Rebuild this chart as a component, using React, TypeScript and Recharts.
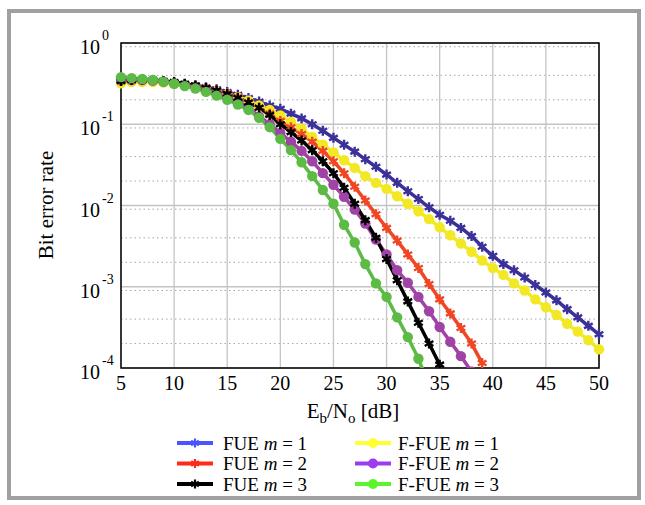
import { LineChart, Line, XAxis, YAxis, CartesianGrid, ReferenceArea } from 'recharts';

// Eb/No [dB] sample points
const snrDb = [
  5, 6, 7, 8, 9, 10, 11, 12, 13, 14, 15, 16, 17, 18, 19, 20, 21, 22, 23, 24, 25, 26, 27,
  28, 29, 30, 31, 32, 33, 34, 35, 36, 37, 38, 39, 40, 41, 42, 43, 44, 45, 46, 47, 48, 49, 50,
];

// BER values, starting at 5 dB
const fueM1 = [
  0.33, 0.35, 0.35, 0.345, 0.335, 0.325, 0.31, 0.3, 0.285, 0.27, 0.25, 0.23, 0.21, 0.19, 0.17,
  0.155, 0.135, 0.118, 0.1, 0.083, 0.068, 0.056, 0.046, 0.037, 0.03, 0.024, 0.019, 0.015, 0.012,
  0.0095, 0.0077, 0.0065, 0.0053, 0.0042, 0.0031, 0.0024, 0.0019, 0.0016, 0.0013, 0.00105,
  0.00085, 0.00068, 0.00053, 0.00042, 0.00033, 0.00026,
];
const fueM2 = [
  0.34, 0.35, 0.35, 0.345, 0.335, 0.325, 0.31, 0.295, 0.28, 0.26, 0.24, 0.215, 0.185, 0.16,
  0.135, 0.11, 0.092, 0.076, 0.061, 0.047, 0.035, 0.025, 0.017, 0.0115, 0.0078, 0.0053, 0.0037,
  0.0025, 0.0017, 0.00108, 0.0007, 0.00047, 0.00031, 0.0002, 0.000115,
];
const fueM3 = [
  0.34, 0.35, 0.355, 0.35, 0.34, 0.33, 0.315, 0.3, 0.28, 0.26, 0.235, 0.21, 0.185, 0.16, 0.13,
  0.1, 0.08, 0.063, 0.048, 0.035, 0.025, 0.0165, 0.0105, 0.0066, 0.004, 0.0022, 0.0012, 0.00066,
  0.00036, 0.0002, 0.00011,
];
const ffueM1 = [
  0.32, 0.33, 0.33, 0.33, 0.325, 0.315, 0.3, 0.29, 0.275, 0.255, 0.235, 0.215, 0.195, 0.17, 0.15,
  0.128, 0.107, 0.088, 0.07, 0.056, 0.045, 0.036, 0.029, 0.023, 0.019, 0.016, 0.013, 0.0105,
  0.0085, 0.0068, 0.0054, 0.0043, 0.0034, 0.0027, 0.0021, 0.0017, 0.0014, 0.0011, 0.0009, 0.0007,
  0.00056, 0.00045, 0.00035, 0.00028, 0.00022, 0.00017,
];
const ffueM2 = [
  0.35, 0.35, 0.35, 0.345, 0.335, 0.32, 0.305, 0.29, 0.27, 0.245, 0.22, 0.19, 0.16, 0.125, 0.1,
  0.078, 0.061, 0.047, 0.035, 0.025, 0.018, 0.0128, 0.0089, 0.006, 0.0038, 0.0025, 0.0016,
  0.00112, 0.00075, 0.0005, 0.00032, 0.00021, 0.00014, 0.00009,
];
const ffueM3 = [
  0.38, 0.37, 0.36, 0.35, 0.335, 0.315, 0.295, 0.275, 0.25, 0.225, 0.2, 0.175, 0.15, 0.12, 0.092,
  0.066, 0.048, 0.034, 0.023, 0.0155, 0.0105, 0.0058, 0.0035, 0.0019, 0.0011, 0.00075, 0.00042,
  0.00024, 0.00013, 0.00006,
];

const xTicks = [5, 10, 15, 20, 25, 30, 35, 40, 45, 50];
const yTicks = [1e-4, 1e-3, 1e-2, 1e-1, 1];
const yTickExponents = ['-4', '-3', '-2', '-1', '0'];

const SERIF = '"Liberation Serif", "Times New Roman", serif';

type Series = {
  key: string;
  name: string;
  m: number;
  values: number[];
  color: string;
  legendColor: string;
  marker: 'star' | 'circle';
};

const series: Series[] = [
  { key: 'fue1', name: 'FUE', m: 1, values: fueM1, color: '#3b3199', legendColor: '#4b55ff', marker: 'star' },
  { key: 'fue2', name: 'FUE', m: 2, values: fueM2, color: '#f04623', legendColor: '#ff2a1a', marker: 'star' },
  { key: 'fue3', name: 'FUE', m: 3, values: fueM3, color: '#000000', legendColor: '#000000', marker: 'star' },
  { key: 'ffue1', name: 'F-FUE', m: 1, values: ffueM1, color: '#f3e824', legendColor: '#ffff33', marker: 'circle' },
  { key: 'ffue2', name: 'F-FUE', m: 2, values: ffueM2, color: '#a043a6', legendColor: '#9b3cf0', marker: 'circle' },
  { key: 'ffue3', name: 'F-FUE', m: 3, values: ffueM3, color: '#5cbb45', legendColor: '#5cf52a', marker: 'circle' },
];

// draw order matches the figure (F-FUE m=3 on top)
const drawOrder = ['fue1', 'ffue1', 'fue2', 'ffue2', 'fue3', 'ffue3'];

const data = snrDb.map((snr, i) => {
  const row: Record<string, number | undefined> = { snr };
  series.forEach((s) => {
    row[s.key] = s.values[i];
  });
  return row;
});

// dotted minor gridlines, 2..9 x 10^k
const minorY: number[] = [];
[-4, -3, -2, -1].forEach((k) => {
  for (let m = 2; m <= 9; m++) minorY.push(m * Math.pow(10, k));
});

function starPath(cx: number, cy: number, r: number) {
  const a = r * 0.866;
  const b = r * 0.5;
  return `M${cx},${cy - r}L${cx},${cy + r}M${cx - a},${cy - b}L${cx + a},${cy + b}M${cx - a},${cy + b}L${cx + a},${cy - b}`;
}

function makeDot(color: string, marker: 'star' | 'circle') {
  return (props: any) => {
    const { cx, cy, index } = props;
    if (cx == null || cy == null || Number.isNaN(cy)) return <g key={index} />;
    if (marker === 'circle') {
      return <circle key={index} cx={cx} cy={cy} r={5.2} fill={color} stroke="none" />;
    }
    return <path key={index} d={starPath(cx, cy, 5)} stroke={color} strokeWidth={2.4} fill="none" />;
  };
}

function YTick(props: any) {
  const { x, y, payload } = props;
  const idx = yTicks.indexOf(payload.value);
  return (
    <g>
      <text x={x - 13} y={y + 11} textAnchor="end" fontSize={20} fontFamily={SERIF} fill="#000">
        10
      </text>
      <text x={x - 11} y={y - 3} fontSize={14} fontFamily={SERIF} fill="#000">
        {yTickExponents[idx]}
      </text>
    </g>
  );
}

function XTick(props: any) {
  const { x, y, payload } = props;
  return (
    <text x={x} y={y + 22} textAnchor="middle" fontSize={20} fontFamily={SERIF} fill="#000">
      {payload.value}
    </text>
  );
}

function LegendBlock() {
  const rows = [0, 1, 2];
  const cols = [
    { lineX: 177, textX: 223, items: series.slice(0, 3) },
    { lineX: 355, textX: 398, items: series.slice(3, 6) },
  ];
  return (
    <svg width={645} height={80} style={{ position: 'absolute', left: 0, top: 430 }}>
      {cols.map((c) =>
        rows.map((r) => {
          const s = c.items[r];
          const cy = 13 + r * 20.5;
          const mid = c.lineX + 18;
          return (
            <g key={s.key}>
              <line x1={c.lineX} x2={c.lineX + 36} y1={cy} y2={cy} stroke={s.legendColor} strokeWidth={4} />
              {s.marker === 'circle' ? (
                <circle cx={mid} cy={cy} r={5} fill={s.legendColor} />
              ) : (
                <path d={starPath(mid, cy, 4.5)} stroke={s.legendColor} strokeWidth={2.2} fill="none" />
              )}
              <text x={c.textX} y={cy + 6.5} fontSize={19} fontFamily={SERIF} fill="#000">
                {s.name} <tspan fontStyle="italic">m</tspan> = {s.m}
              </text>
            </g>
          );
        })
      )}
    </svg>
  );
}

// shared props for the tick-only mirrored axes that draw the inward tick marks
const logAxis = {
  scale: 'log' as const,
  domain: [1e-4, 1] as [number, number],
  allowDataOverflow: true,
  mirror: true,
  width: 0,
  tick: false,
  axisLine: false,
  tickLine: { stroke: '#000', strokeWidth: 1 },
};

export default function App() {
  return (
    <div style={{ position: 'absolute', left: 0, top: 0, width: 645, height: 505, background: '#fff' }}>
      <div
        style={{
          position: 'absolute',
          left: 7,
          top: 9,
          width: 634,
          height: 491,
          border: '4px solid #a0a0a0',
          boxSizing: 'border-box',
        }}
      />
      <LineChart
        width={645}
        height={505}
        data={data}
        margin={{ top: 43, right: 46, bottom: 107, left: 0 }}
        style={{ position: 'absolute', left: 0, top: 0 }}
      >
        <CartesianGrid
          horizontalValues={minorY}
          vertical={false}
          stroke="#a8a8a8"
          strokeDasharray="1.5 3"
        />
        <CartesianGrid horizontalValues={yTicks} verticalValues={xTicks} stroke="#c4c4c4" strokeWidth={1.3} />
        <XAxis
          dataKey="snr"
          type="number"
          domain={[5, 50]}
          ticks={xTicks}
          tick={<XTick />}
          tickLine={false}
          axisLine={false}
          tickSize={0}
          tickMargin={0}
          height={30}
          label={{
            content: () => (
              <text x={353} y={418} textAnchor="middle" fontSize={21} fontFamily={SERIF} fill="#000">
                E<tspan fontSize={15} dy={5}>b</tspan>
                <tspan dy={-5}>/N</tspan>
                <tspan fontSize={15} dy={5}>o</tspan>
                <tspan dy={-5}> [dB]</tspan>
              </text>
            ),
          }}
        />
        <XAxis
          xAxisId="bottomTicks"
          dataKey="snr"
          type="number"
          domain={[5, 50]}
          ticks={xTicks}
          mirror
          height={0}
          tick={false}
          axisLine={false}
          tickSize={5}
          tickLine={{ stroke: '#000' }}
        />
        <XAxis
          xAxisId="topTicks"
          orientation="top"
          dataKey="snr"
          type="number"
          domain={[5, 50]}
          ticks={xTicks}
          mirror
          height={0}
          tick={false}
          axisLine={false}
          tickSize={5}
          tickLine={{ stroke: '#000' }}
        />
        <YAxis
          scale="log"
          domain={[1e-4, 1]}
          allowDataOverflow
          ticks={yTicks}
          tick={<YTick />}
          tickLine={false}
          axisLine={false}
          width={121}
          label={{
            content: () => (
              <text
                transform="rotate(-90)"
                x={-205}
                y={53}
                textAnchor="middle"
                fontSize={21}
                fontFamily={SERIF}
                fill="#000"
              >
                Bit error rate
              </text>
            ),
          }}
        />
        <YAxis yAxisId="minorLeft" {...logAxis} ticks={minorY} tickSize={3} />
        <YAxis yAxisId="majorLeft" {...logAxis} ticks={yTicks} tickSize={6} />
        <YAxis yAxisId="minorRight" orientation="right" {...logAxis} ticks={minorY} tickSize={3} />
        <YAxis yAxisId="majorRight" orientation="right" {...logAxis} ticks={yTicks} tickSize={6} />
        <ReferenceArea x1={5} x2={50} y1={1e-4} y2={1} fill="none" stroke="#000" strokeWidth={1.5} ifOverflow="visible" />
        {drawOrder.map((k) => {
          const s = series.find((v) => v.key === k)!;
          return (
            <Line
              key={s.key}
              dataKey={s.key}
              type="linear"
              stroke={s.color}
              strokeWidth={3.5}
              dot={makeDot(s.color, s.marker)}
              activeDot={false}
              isAnimationActive={false}
              connectNulls={false}
            />
          );
        })}
      </LineChart>
      <LegendBlock />
    </div>
  );
}
